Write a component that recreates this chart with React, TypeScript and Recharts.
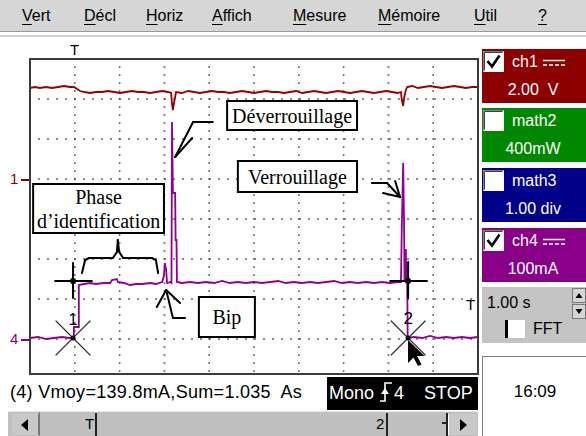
import React from 'react'
import {
  LineChart, Line, XAxis, YAxis, CartesianGrid,
  ReferenceLine, ReferenceArea, ReferenceDot
} from 'recharts'

// time base 1.00 s/div, ch1 2.00 V/div, ch4 100 mA/div
const ch1Time = [
  0, 0.11, 0.22, 0.36, 0.49, 0.63, 0.76, 0.89, 0.98, 1.05,
  1.12, 1.21, 1.34, 1.47, 1.61, 1.74, 1.88, 2.01, 2.14, 2.28,
  2.41, 2.54, 2.68, 2.81, 2.95, 3.08, 3.15, 3.17, 3.19, 3.21,
  3.24, 3.26, 3.39, 3.53, 3.66, 3.79, 3.93, 4.06, 4.2, 4.33,
  4.46, 4.6, 4.73, 4.87, 5.0, 5.13, 5.27, 5.4, 5.54, 5.67,
  5.8, 5.94, 6.07, 6.21, 6.34, 6.47, 6.61, 6.74, 6.88, 7.01,
  7.14, 7.28, 7.41, 7.54, 7.68, 7.81, 7.95, 8.08, 8.21, 8.28,
  8.3, 8.33, 8.35, 8.39, 8.42, 8.53, 8.66, 8.79, 8.93, 9.06,
  9.2, 9.33, 9.46, 9.6, 9.73, 9.87, 10,
]
const ch1Volts = [
  4.55, 4.6, 4.55, 4.6, 4.55, 4.6, 4.65, 4.6, 4.6, 4.5,
  4.4, 4.35, 4.3, 4.35, 4.35, 4.4, 4.35, 4.3, 4.35, 4.4,
  4.35, 4.35, 4.3, 4.35, 4.4, 4.35, 4.3, 3.75, 3.45, 3.75,
  4.1, 4.35, 4.3, 4.4, 4.35, 4.3, 4.35, 4.4, 4.35, 4.35,
  4.3, 4.35, 4.4, 4.35, 4.3, 4.35, 4.4, 4.35, 4.35, 4.3,
  4.35, 4.4, 4.3, 4.35, 4.4, 4.35, 4.3, 4.35, 4.4, 4.35,
  4.3, 4.35, 4.4, 4.35, 4.3, 4.35, 4.4, 4.35, 4.3, 4.35,
  3.95, 3.65, 4.05, 4.45, 4.6, 4.65, 4.55, 4.6, 4.65, 4.6,
  4.55, 4.6, 4.65, 4.6, 4.55, 4.6, 4.6,
]

const ch4Time = [
  0, 0.18, 0.36, 0.54, 0.71, 0.89, 0.98, 0.98, 1.09, 1.09,
  1.21, 1.34, 1.47, 1.65, 1.79, 1.83, 1.94, 1.96, 2.1, 2.23,
  2.37, 2.5, 2.68, 2.81, 2.95, 2.99, 3.01, 3.04, 3.06, 3.13,
  3.158, 3.17, 3.19, 3.24, 3.25, 3.27, 3.28, 3.39, 3.57, 3.75,
  3.93, 4.11, 4.29, 4.46, 4.64, 4.82, 5.0, 5.18, 5.36, 5.54,
  5.71, 5.89, 6.07, 6.25, 6.43, 6.61, 6.79, 6.96, 7.14, 7.32,
  7.5, 7.68, 7.86, 8.04, 8.21, 8.28, 8.3, 8.33, 8.35, 8.36,
  8.37, 8.39, 8.4, 8.42, 8.43, 8.57, 8.75, 8.93, 9.11, 9.29,
  9.46, 9.64, 9.82, 10,
]
const ch4Milliamps = [
  2.5, 5, 0, 2.5, 5, 2.5, 2.5, 30, 30, 135,
  137.5, 140, 137.5, 140, 140, 147.5, 150, 142.5, 140, 135,
  137.5, 137.5, 140, 137.5, 142.5, 157.5, 190, 172.5, 140, 142.5,
  140, 542.5, 365, 365, 247.5, 247.5, 142.5, 140, 142.5, 140,
  142.5, 140, 145, 140, 142.5, 140, 142.5, 140, 142.5, 145,
  140, 142.5, 140, 142.5, 140, 142.5, 145, 140, 142.5, 140,
  142.5, 140, 142.5, 140, 142.5, 142.5, 285, 440, 285, 142.5,
  222.5, 222.5, 142.5, 142.5, 2.5, 5, 2.5, 7.5, 2.5, 5,
  2.5, 5, 2.5, 5,
]

const timeTicks = [1, 2, 3, 4, 5, 6, 7, 8, 9]
const ampTicks = [0, 100, 200, 300, 400, 500, 600]

const menuItems = ['Vert', 'Décl', 'Horiz', 'Affich', 'Mesure', 'Mémoire', 'Util', '?']
const channelNames = ['ch1', 'math2', 'math3', 'ch4']
const channelScales = ['2.00  V', '400mW', '1.00 div', '100mA']
const channelOn = [true, false, false, true]
const timeBase = '1.00 s'
const statusText = '(4) Vmoy=139.8mA,Sum=1.035  As'
const clock = '16:09'

const ch1Data = ch1Time.map((t, i) => ({ t, v: ch1Volts[i] }))
const ch4Data = ch4Time.map((t, i) => ({ t, ma: ch4Milliamps[i] }))

const SANS = '"Liberation Sans", Arial, sans-serif'
const SERIF = '"Liberation Serif", "Times New Roman", serif'
const RED = '#8c0000'
const PURPLE = '#880088'
const menuX = [22, 84, 146, 212, 293, 378, 474, 538]
const panelColors = ['#8c0000', '#008800', '#000088', '#880088']
const panelTops = [49, 108, 168, 228]

type Pt = [number, number]

// polyline drawn as reference segments, in seconds / mA
const seg = (key: string, pts: Pt[], color = '#000', width = 2) =>
  pts.slice(1).map((p, i) => (
    <ReferenceLine
      key={`${key}${i}`}
      yAxisId="ma"
      ifOverflow="visible"
      segment={[{ x: pts[i][0], y: pts[i][1] }, { x: p[0], y: p[1] }]}
      stroke={color}
      strokeWidth={width}
      strokeLinecap="round"
    />
  ))

const textLabel = (lines: string[], font: string, size: number, lh = 24) =>
  (props: any) => {
    const vb = props.viewBox ?? { x: 0, y: 0, width: 0, height: 0 }
    const cx = vb.x + vb.width / 2
    const cy = vb.y + vb.height / 2
    return (
      <g>
        {lines.map((l, i) => (
          <text key={i} x={cx} y={cy + (i - (lines.length - 1) / 2) * lh}
            textAnchor="middle" dominantBaseline="central"
            fontFamily={font} fontSize={size} fill="#000">{l}</text>
        ))}
      </g>
    )
  }

const boxes = [
  { lines: ['Déverrouillage'], x1: 4.4, x2: 7.3, y1: 522.5, y2: 595 },
  { lines: ['Verrouillage'], x1: 4.64, x2: 7.3, y1: 367.5, y2: 445 },
  { lines: ['Phase', 'd’identification'], x1: 0.07, x2: 2.99, y1: 265, y2: 387.5 },
  { lines: ['Bip'], x1: 3.77, x2: 5.02, y1: 5, y2: 105 },
]

function Check({ on }: { on: boolean }) {
  return (
    <svg width={21} height={21} style={{ position: 'absolute', left: 1, top: 2 }}>
      <rect x={0} y={0} width={21} height={21} fill="#fff" />
      <path d="M0.5 20.5 V0.5 H20.5" stroke="#808080" fill="none" />
      <path d="M1.5 19.5 V1.5 H19.5" stroke="#404040" fill="none" />
      {on && <path d="M4.5 10 L9 15.5 L16.5 4.5" stroke="#000" strokeWidth={2.6} fill="none" />}
    </svg>
  )
}

function Coupling() {
  return (
    <svg width={22} height={10} style={{ marginLeft: 5, verticalAlign: 'middle' }}>
      <line x1={0} y1={2.5} x2={22} y2={2.5} stroke="#fff" strokeWidth={1.5} />
      <line x1={0} y1={7} x2={22} y2={7} stroke="#fff" strokeWidth={1.5} strokeDasharray="4 2" />
    </svg>
  )
}

function Scope() {
  return (
    <LineChart width={586} height={436} margin={{ top: 59, right: 108, bottom: 62, left: 30 }}>
      <XAxis dataKey="t" type="number" domain={[0, 10]} ticks={timeTicks} hide />
      <YAxis yAxisId="v" type="number" domain={[-9.75, 6]} hide />
      <YAxis yAxisId="ma" type="number" domain={[-87.5, 700]} ticks={ampTicks} hide />
      <CartesianGrid yAxisId="ma" vertical={false} stroke="#444" strokeWidth={1.6} strokeDasharray="1.6 7.4" strokeDashoffset={0.8} />
      <CartesianGrid yAxisId="ma" horizontal={false} stroke="#444" strokeWidth={1.6} strokeDasharray="1.6 6.4" strokeDashoffset={0.8} />

      {boxes.map((b, i) => (
        <ReferenceArea key={`box${i}`} yAxisId="ma" x1={b.x1} x2={b.x2} y1={b.y1} y2={b.y2}
          fill="#fff" fillOpacity={1} stroke="#000" strokeWidth={2} ifOverflow="visible"
          label={textLabel(b.lines, SERIF, 20)} />
      ))}

      {seg('dv', [[4.08, 542.5], [3.64, 542.5], [3.24, 455]])}
      {seg('dvh', [[3.62, 502.5], [3.24, 455]])}
      {seg('vr', [[7.63, 390], [7.97, 390], [8.26, 355]])}
      {seg('vrh1', [[7.88, 365], [8.26, 355]])}
      {seg('vrh2', [[8.15, 395], [8.26, 355]])}
      {seg('bp', [[3.04, 122.5], [3.19, 52.5], [3.46, 52.5]])}
      {seg('bph', [[2.83, 80], [3.04, 122.5], [3.35, 90]])}
      {seg('br', [[1.16, 165], [1.23, 197.5], [1.32, 202.5], [1.85, 202.5], [1.94, 217.5],
        [1.96, 247.5], [1.99, 217.5], [2.08, 202.5], [2.72, 202.5], [2.81, 197.5], [2.86, 165]])}

      {seg('x1a', [[0.58, 45], [1.34, -40]], '#333', 1.2)}
      {seg('x1b', [[0.58, -40], [1.34, 45]], '#333', 1.2)}
      {seg('x2a', [[8.06, 45], [8.82, -40]], '#333', 1.2)}
      {seg('x2b', [[8.06, -40], [8.82, 45]], '#333', 1.2)}

      <Line yAxisId="v" data={ch1Data} dataKey="v" type="linear" dot={false}
        stroke="#9a0000" strokeWidth={1.8} isAnimationActive={false} />
      <Line yAxisId="ma" data={ch4Data} dataKey="ma" type="linear" dot={false}
        stroke="#920092" strokeWidth={1.8} isAnimationActive={false} />

      {seg('c1h', [[0.56, 145], [1.38, 145]], '#000', 2)}
      {seg('c1v', [[0.96, 190], [0.96, 102.5]], '#000', 2)}
      {seg('c2h', [[8.04, 145], [8.86, 145]], '#000', 2)}
      {seg('c2v', [[8.44, 192.5], [8.44, 102.5]], '#000', 2)}
      <ReferenceDot yAxisId="ma" x={0.96} y={145} r={3} fill="#000" stroke="none" ifOverflow="visible" />
      <ReferenceDot yAxisId="ma" x={8.44} y={145} r={3} fill="#000" stroke="none" ifOverflow="visible" />
      <ReferenceDot yAxisId="ma" x={0.96} y={2.5} r={2.5} fill="#000" stroke="none" ifOverflow="visible" />
      <ReferenceDot yAxisId="ma" x={8.44} y={2.5} r={2.5} fill="#000" stroke="none" ifOverflow="visible" />
      <ReferenceDot yAxisId="ma" x={0.96} y={50} r={1} fill="none" stroke="none" ifOverflow="visible"
        label={textLabel(['1'], SANS, 16)} />
      <ReferenceDot yAxisId="ma" x={8.44} y={52.5} r={1} fill="none" stroke="none" ifOverflow="visible"
        label={textLabel(['2'], SANS, 17)} />
    </LineChart>
  )
}

export default function App() {
  const abs = (s: React.CSSProperties): React.CSSProperties => ({ position: 'absolute', ...s })
  return (
    <div style={abs({ left: 0, top: 0, width: 586, height: 436, background: '#fff', overflow: 'hidden', fontFamily: SANS })}>
      {/* menu bar */}
      <div style={abs({ left: 0, top: 0, width: 586, height: 31, background: '#d6d6d6', borderBottom: '1px solid #999' })} />
      <div style={abs({ left: 0, top: 35, width: 586, height: 2, background: '#cfcfcf' })} />
      {menuItems.map((m, i) => (
        <div key={m} style={abs({ left: menuX[i], top: 6, fontSize: 16, lineHeight: '20px', color: '#000' })}>
          <span style={{ textDecoration: 'underline', textUnderlineOffset: 3 }}>{m[0]}</span>{m.slice(1)}
        </div>
      ))}

      {/* trigger / ground markers */}
      <div style={abs({ left: 70, top: 41, fontSize: 15, lineHeight: '18px' })}>T</div>
      <div style={abs({ left: 10, top: 170, fontSize: 15, lineHeight: '18px', color: RED })}>1</div>
      <div style={abs({ left: 21, top: 179, width: 8, height: 1.5, background: RED })} />
      <div style={abs({ left: 10, top: 330, fontSize: 15, lineHeight: '18px', color: PURPLE })}>4</div>
      <div style={abs({ left: 21, top: 339, width: 8, height: 1.5, background: PURPLE })} />

      <div style={abs({ left: 0, top: 0 })}>
        <Scope />
      </div>
      <div style={abs({ left: 29, top: 58, width: 450, height: 317, border: '2px solid #3c3c3c', boxSizing: 'border-box' })} />
      <div style={abs({ left: 466, top: 296, fontSize: 15, lineHeight: '18px' })}>T</div>

      {/* mouse pointer */}
      <svg width={30} height={40} style={abs({ left: 404, top: 338 })}>
        <path d="M4 2 L4 25 L9.5 19.5 L14 28 L17.5 26.5 L13 18 L20.5 18 Z" fill="#000" />
      </svg>

      {/* channel panels */}
      {channelNames.map((n, i) => (
        <div key={n} style={abs({ left: 482, top: panelTops[i], width: 104, height: 54, background: panelColors[i], color: '#fff' })}>
          <Check on={channelOn[i]} />
          <div style={abs({ left: 30, top: 3, fontSize: 16, lineHeight: '20px', whiteSpace: 'pre' })}>
            {n}{(i === 0 || i === 3) && <Coupling />}
          </div>
          <div style={abs({ left: 0, top: 31, width: 102, textAlign: 'center', fontSize: 16, lineHeight: '20px', whiteSpace: 'pre' })}>
            {channelScales[i]}
          </div>
        </div>
      ))}

      {/* time base panel */}
      <div style={abs({ left: 482, top: 287, width: 104, height: 56, background: '#c4c4c4' })}>
        <div style={abs({ left: 5, top: 6, fontSize: 16, lineHeight: '20px' })}>{timeBase}</div>
        <svg width={14} height={32} style={abs({ left: 90, top: 1 })}>
          <rect x={0.5} y={0.5} width={13} height={14} fill="#d4d4d4" stroke="#777" />
          <rect x={0.5} y={16.5} width={13} height={14} fill="#d4d4d4" stroke="#777" />
          <path d="M3.5 10 L7 5 L10.5 10 Z" fill="#000" />
          <path d="M3.5 21 L7 26 L10.5 21 Z" fill="#000" />
        </svg>
        <div style={abs({ left: 23, top: 33, width: 20, height: 18, background: '#fff', borderLeft: '3px solid #000', boxSizing: 'border-box' })} />
        <div style={abs({ left: 51, top: 32, fontSize: 16, lineHeight: '20px' })}>FFT</div>
      </div>

      {/* clock */}
      <div style={abs({ left: 482, top: 356, width: 104, height: 80, background: '#fff', borderTop: '1px solid #808080', borderLeft: '1px solid #808080', boxSizing: 'border-box' })}>
        <div style={abs({ left: 0, top: 25, width: 104, textAlign: 'center', fontSize: 17, lineHeight: '20px' })}>{clock}</div>
      </div>

      {/* status line */}
      <div style={abs({ left: 10, top: 382, fontSize: 18, lineHeight: '20px', letterSpacing: 0.3, whiteSpace: 'pre' })}>{statusText}</div>
      <div style={abs({ left: 327, top: 377, width: 151, height: 33, background: '#000', color: '#fff', fontSize: 18, lineHeight: '20px' })}>
        <div style={abs({ left: 2, top: 6 })}>Mono</div>
        <svg width={14} height={22} style={abs({ left: 52, top: 4 })}>
          <path d="M1 20 H6 V2 H13" stroke="#fff" strokeWidth={1.6} fill="none" />
          <path d="M2 13 L6 7 L10 13 Z" fill="#fff" />
        </svg>
        <div style={abs({ left: 67, top: 6 })}>4</div>
        <div style={abs({ left: 97, top: 6 })}>STOP</div>
      </div>

      {/* scrollbar */}
      <div style={abs({ left: 8, top: 411, width: 470, height: 25, background: '#c0c0c0', borderTop: '1px solid #e8e8e8' })}>
        <div style={abs({ left: 4, top: 2, width: 26, height: 21, background: '#c8c8c8', borderRight: '1px solid #777' })} />
        <svg width={10} height={12} style={abs({ left: 12, top: 7 })}><path d="M8 0 L1 6 L8 12 Z" fill="#000" /></svg>
        <div style={abs({ left: 31, top: 0, width: 1, height: 25, background: '#777' })} />
        <div style={abs({ left: 77, top: 3, fontSize: 15, lineHeight: '18px' })}>T</div>
        <div style={abs({ left: 87, top: 1, width: 1.5, height: 23, background: '#222' })} />
        <div style={abs({ left: 368, top: 3, fontSize: 15, lineHeight: '18px' })}>2</div>
        <div style={abs({ left: 378, top: 1, width: 1.5, height: 23, background: '#222' })} />
        <div style={abs({ left: 434, top: 10, width: 5, height: 1.5, background: '#222' })} />
        <div style={abs({ left: 438, top: 1, width: 1.5, height: 23, background: '#222' })} />
        <div style={abs({ left: 440, top: 2, width: 28, height: 21, background: '#c8c8c8', borderLeft: '1px solid #fff' })} />
        <svg width={10} height={12} style={abs({ left: 451, top: 7 })}><path d="M1 0 L8 6 L1 12 Z" fill="#000" /></svg>
      </div>
    </div>
  )
}
